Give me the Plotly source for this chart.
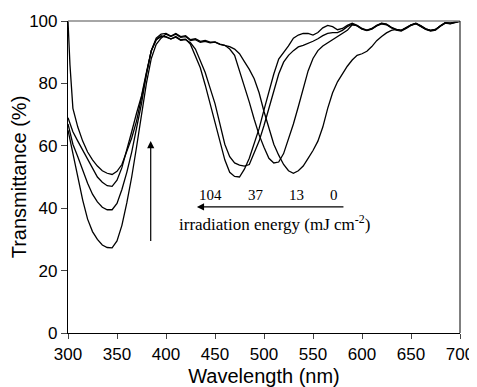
import plotly.graph_objects as go

wavelength = [300, 302] + list(range(305, 701, 5))

# irradiation energy 104 mJ cm-2
t_104 = [100, 86, 72, 66, 61.5, 58, 55.5, 53.5, 52, 51.2, 50.8, 51.8, 54, 58, 62.5, 68, 75, 83, 90.5, 94,
         95, 95, 94.2, 95, 94, 94.2, 92.5, 89, 85, 79.5, 73.5, 67, 61, 55.5, 51.5, 50.2, 50, 52.5, 56, 60.5,
         65.5, 71.5, 77.5, 83, 87.8, 89.8, 92, 94.5, 95.5, 96, 96, 95.5, 96.3, 97.8, 98.6, 98.2, 97.2, 97.6, 98.6, 99.3,
         98.6, 97.6, 97.1, 97.6, 98.6, 99.3, 99, 98, 97.3, 97, 97.8, 98.8, 99.3, 98.5, 97.5, 97, 97.3, 98.5, 99.5, 99.3,
         99.6, 100]
# 37 mJ cm-2
t_37 = [69, 67, 64.5, 61.5, 58.5, 55.5, 52.5, 50, 48.3, 47.2, 47, 49, 53, 58.5, 64.5, 70.5, 76, 83.5, 90.5, 94,
        95.3, 94.8, 94.3, 94.8, 93.8, 94, 93, 91, 87.5, 83.5, 78.5, 73.5, 67, 60.5, 56.5, 54.5, 53.8, 53.5, 54, 57.5,
        61.5, 66.5, 72, 78, 83, 86.8, 89, 90.5, 91.7, 92.2, 92.8, 93.5, 94.3, 95.3, 96, 96.3, 96.3, 97, 98.2, 99,
        98.4, 97.4, 96.9, 97.4, 98.4, 99.1, 98.8, 97.8, 97.1, 96.8, 97.6, 98.6, 99.1, 98.3, 97.3, 96.8, 97.1, 98.3, 99.3, 99.1,
        99.4, 99.9]
# 13 mJ cm-2
t_13 = [67, 64, 60.5, 56.5, 52, 48, 44.5, 42, 40.3, 39.5, 39.5, 41.5, 46, 51.5, 58, 65.5, 73.5, 83, 90.5, 94.5,
        95.8, 96, 95.2, 96, 95, 95.3, 94, 94.3, 93.5, 93.8, 93.2, 93.3, 92.6, 92.2, 91, 89, 84, 79.5, 74, 68.5,
        63.5, 59.5, 56, 54.5, 54.8, 57.5, 62, 67, 72.5, 78.5, 84, 88, 90.5, 92, 93, 94, 95, 96, 97, 98.8,
        98.5, 97.5, 97, 97.5, 98.5, 99.2, 98.9, 97.9, 97.2, 96.9, 97.7, 98.7, 99.2, 98.4, 97.4, 96.9, 97.2, 98.4, 99.4, 99.2,
        99.5, 100]
# 0 mJ cm-2
t_0 = [65, 62, 57, 50, 42.6, 36.5, 32.5, 30, 28.2, 27.4, 27.3, 29.5, 34.5, 41.7, 50, 59.7, 70.5, 80, 88, 92.5,
       94.5, 95.8, 95, 95.8, 94.8, 95, 93.7, 94, 93.2, 93.5, 93, 93.2, 92.5, 92.2, 91.8, 91, 89.5, 87, 84.5, 81.5,
       77, 71, 65.5, 60.5, 57, 54, 52, 51.2, 52, 53.5, 56, 58.5, 61.5, 66, 72, 77, 80.5, 83, 85.5, 87.5,
       89, 89.5, 90.3, 91.8, 93.7, 95, 96.2, 97, 97.3, 97, 97.7, 98.7, 99.2, 98.5, 97.5, 97, 97.3, 98.5, 99.5, 99.3,
       99.6, 100]

series = [t_104, t_37, t_13, t_0]
energy_labels = ["104", "37", "13", "0"]
energy_label_x = [445.9, 491.8, 532.7, 571.4]

x_ticks = [300, 350, 400, 450, 500, 550, 600, 650, 700]
y_ticks = [0, 20, 40, 60, 80, 100]

fig = go.Figure()
for name, ys in zip(energy_labels, series):
    fig.add_trace(go.Scatter(x=wavelength, y=ys, mode="lines", name=name,
                             line=dict(color="black", width=1.3), showlegend=False))

sans = "Liberation Sans, Arial, sans-serif"
serif = "Liberation Serif, Times New Roman, serif"

# energy labels
for lab, xv in zip(energy_labels, energy_label_x):
    fig.add_annotation(x=xv, y=44.2, text=lab, showarrow=False, xref="x", yref="y",
                       font=dict(family=serif, size=15, color="black"))
fig.add_annotation(x=510.2, y=35.4, text="irradiation energy (mJ cm<sup>-2</sup>)", showarrow=False,
                   font=dict(family=serif, size=17, color="black"))
# horizontal arrow (right to left)
fig.add_annotation(x=431.5, y=40.4, ax=582.6, ay=40.4, xref="x", yref="y", axref="x", ayref="y",
                   text="", showarrow=True, arrowhead=2, arrowsize=1.2, arrowwidth=1.2, arrowcolor="black")
# vertical arrow (upwards)
fig.add_annotation(x=384.4, y=61.5, ax=384.4, ay=29.0, xref="x", yref="y", axref="x", ayref="y",
                   text="", showarrow=True, arrowhead=2, arrowsize=1.2, arrowwidth=1.2, arrowcolor="black")

# frame: gray top, black right
fig.add_shape(type="line", xref="paper", yref="paper", x0=0, x1=1, y0=1, y1=1,
              line=dict(color="#888888", width=1.5))
fig.add_shape(type="line", xref="paper", yref="paper", x0=1, x1=1, y0=0, y1=1,
              line=dict(color="black", width=1))

# the page body adds an 8px offset, so the figure is sized to fit the window
fig.update_layout(
    width=469, height=379,
    margin=dict(l=60, r=17, t=13, b=54),
    paper_bgcolor="white", plot_bgcolor="white",
    xaxis=dict(range=[300, 700], tickvals=x_ticks, ticks="outside", ticklen=5, tickwidth=1.2,
               showline=True, linecolor="black", linewidth=1.2, showgrid=False, zeroline=False,
               automargin=False,
               tickfont=dict(family=sans, size=17, color="black"),
               title=dict(text="Wavelength (nm)", font=dict(family=sans, size=20, color="black"), standoff=8)),
    yaxis=dict(range=[0, 100], tickvals=y_ticks, ticks="outside", ticklen=6, tickwidth=1.2,
               showline=True, linecolor="black", linewidth=1.2, showgrid=False, zeroline=False,
               automargin=False,
               tickfont=dict(family=sans, size=17, color="black"),
               title=dict(text="Transmittance (%)", font=dict(family=sans, size=20, color="black"), standoff=4)),
)

fig.write_html("out.html")
